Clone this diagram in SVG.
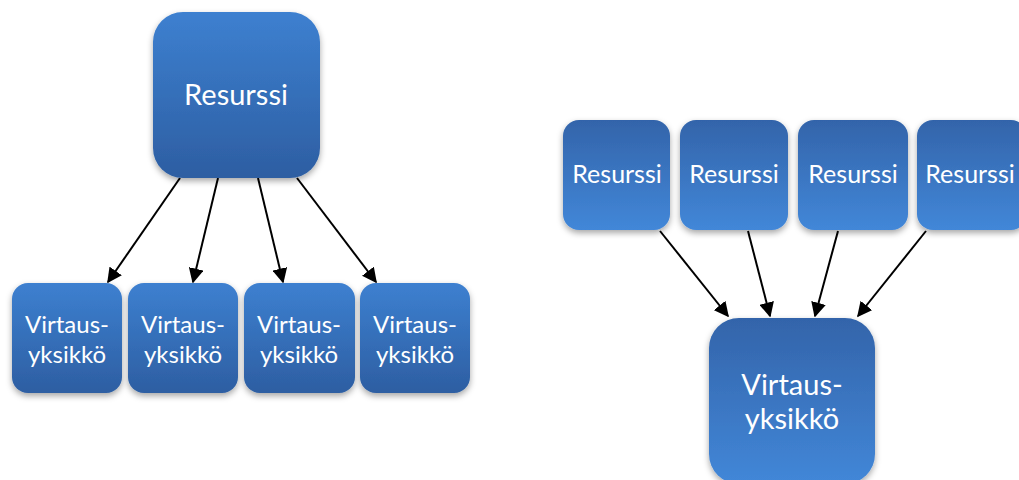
<svg xmlns="http://www.w3.org/2000/svg" width="1019" height="480" viewBox="0 0 1019 480">
<defs>
<linearGradient id="gDown" x1="0" y1="0" x2="0" y2="1">
<stop offset="0" stop-color="#3d80d0"/>
<stop offset="1" stop-color="#2d5ea2"/>
</linearGradient>
<linearGradient id="gUp" x1="0" y1="0" x2="0" y2="1">
<stop offset="0" stop-color="#3364aa"/>
<stop offset="1" stop-color="#4287d8"/>
</linearGradient>
<filter id="sh" x="-20%" y="-20%" width="140%" height="150%">
<feDropShadow dx="0" dy="3" stdDeviation="3" flood-color="#000" flood-opacity="0.35"/>
</filter>
<marker id="ah2" viewBox="0 0 10 10" refX="9" refY="5" markerWidth="15" markerHeight="15" markerUnits="userSpaceOnUse" orient="auto">
<path d="M0,0 L10,5 L0,10 z" fill="#000"/>
</marker>
</defs>
<style>
.bd{fill:url(#gDown);filter:url(#sh);}
.bu{fill:url(#gUp);filter:url(#sh);}
text{font-family:Lato,"Open Sans","Liberation Sans",sans-serif;fill:#fff;text-anchor:middle;}
.big{font-size:29px;}
.sm{font-size:24px;}
.rs{font-size:25px;}
.mid{font-size:29px;}
.ln{stroke:#000;stroke-width:2;fill:none;marker-end:url(#ah2);}
</style>
<g id="connectors">
<line class="ln" x1="180" y1="178" x2="108" y2="282"/>
<line class="ln" x1="218" y1="178" x2="193" y2="282"/>
<line class="ln" x1="258" y1="178" x2="283" y2="282"/>
<line class="ln" x1="297" y1="178" x2="376" y2="282"/>
<line class="ln" x1="660" y1="231" x2="728" y2="316"/>
<line class="ln" x1="748" y1="231" x2="770" y2="316"/>
<line class="ln" x1="838" y1="231" x2="815" y2="316"/>
<line class="ln" x1="926" y1="231" x2="858" y2="316"/>
</g>
<g id="res-top">
<rect class="bd" x="153" y="12" width="167" height="166" rx="30"/>
<text class="big" x="236" y="105">Resurssi</text>
</g>
<g id="vy1">
<rect class="bd" x="12" y="283" width="110" height="110" rx="16"/>
<text class="sm" x="67" y="333">Virtaus-</text>
<text class="sm" x="67" y="363">yksikkö</text>
</g>
<g id="vy2">
<rect class="bd" x="128" y="283" width="110" height="110" rx="16"/>
<text class="sm" x="183" y="333">Virtaus-</text>
<text class="sm" x="183" y="363">yksikkö</text>
</g>
<g id="vy3">
<rect class="bd" x="244" y="283" width="111" height="110" rx="16"/>
<text class="sm" x="299" y="333">Virtaus-</text>
<text class="sm" x="299" y="363">yksikkö</text>
</g>
<g id="vy4">
<rect class="bd" x="360" y="283" width="110" height="110" rx="16"/>
<text class="sm" x="415" y="333">Virtaus-</text>
<text class="sm" x="415" y="363">yksikkö</text>
</g>
<g id="r1">
<rect class="bu" x="563" y="120" width="107" height="110" rx="16"/>
<text class="rs" x="617" y="183">Resurssi</text>
</g>
<g id="r2">
<rect class="bu" x="680" y="120" width="108" height="110" rx="16"/>
<text class="rs" x="734" y="183">Resurssi</text>
</g>
<g id="r3">
<rect class="bu" x="798" y="120" width="110" height="110" rx="16"/>
<text class="rs" x="853" y="183">Resurssi</text>
</g>
<g id="r4">
<rect class="bu" x="917" y="120" width="110" height="110" rx="16"/>
<text class="rs" x="970" y="183">Resurssi</text>
</g>
<g id="vy-right">
<rect class="bu" x="709" y="318" width="166" height="166" rx="30"/>
<text class="mid" x="792" y="395">Virtaus-</text>
<text class="mid" x="792" y="429">yksikkö</text>
</g>
</svg>
